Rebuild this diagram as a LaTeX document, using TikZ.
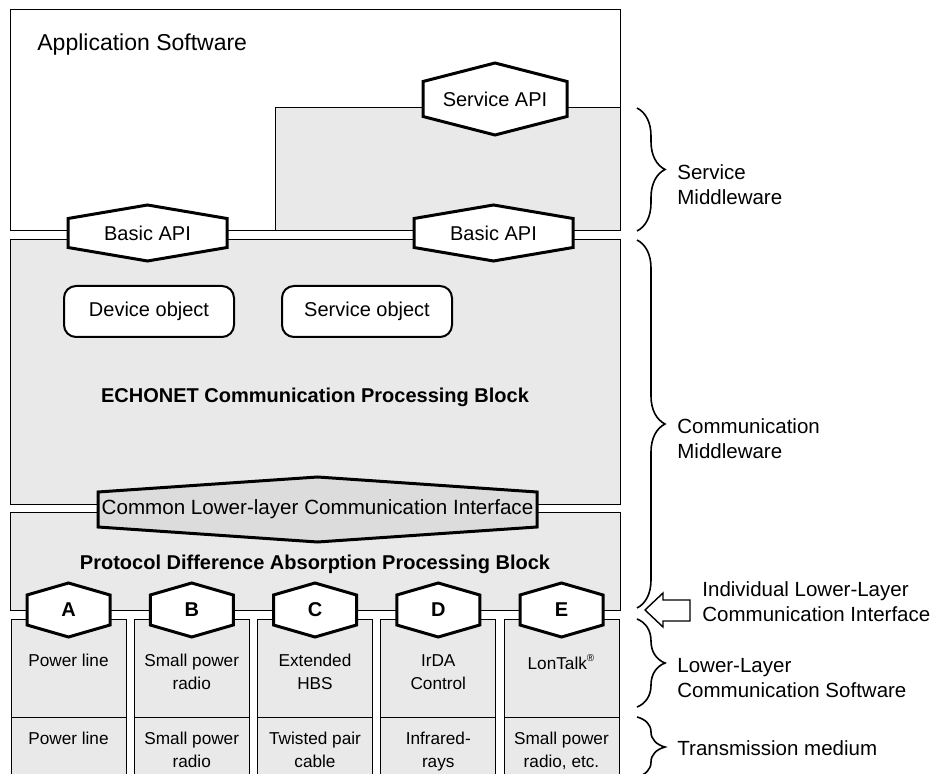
\documentclass[tikz,border=0pt]{standalone}
\usepackage{fontspec}
\setmainfont{Liberation Sans}
\usetikzlibrary{decorations.pathreplacing,calc}
\definecolor{blockgray}{HTML}{E9E9E9}
\definecolor{ifgray}{HTML}{DCDCDC}

\tikzset{
  block/.style={draw=black,line width=0.5pt,fill=blockgray},
  hexline/.style={draw=black,line width=1.5pt,line join=miter},
  objbox/.style={draw,line width=1pt,rounded corners=6pt,fill=white,minimum width=85pt,minimum height=25.5pt,font=\fontsize{10}{12}\selectfont},
  txt/.style={font=\fontsize{10}{12}\selectfont,inner sep=0pt},
  boldtxt/.style={font=\bfseries\fontsize{10}{12}\selectfont,inner sep=0pt},
  celltxt/.style={font=\fontsize{8.6}{11.5}\selectfont,align=center,anchor=north,inner sep=0pt},
  sidelbl/.style={font=\fontsize{10.25}{12.5}\selectfont,align=left,anchor=west,inner sep=0pt},
  brc/.style={decorate,decoration={brace,amplitude=14pt},line width=0.8pt}
}

% hexagon with label: [fill] name, cx, cy, half width, half side, half point, label
\newcommand{\apihex}[8][white]{%
  \filldraw[hexline,fill=#1] ({#3-#5},{#4-#6}) -- (#3,{#4-#7}) -- ({#3+#5},{#4-#6})
    -- ({#3+#5},{#4+#6}) -- (#3,{#4+#7}) -- ({#3-#5},{#4+#6}) -- cycle;
  \node[txt] (#2) at (#3,#4) {#8};}

\begin{document}
\begin{tikzpicture}[x=0.5pt,y=-0.5pt]
\clip (0,0) rectangle (931,774);
% application software
\draw[line width=0.5pt] (10,10) rectangle (620,231);
\node[txt,anchor=west,font=\fontsize{11.5}{14}\selectfont] (app) at (37,45) {Application Software};
\filldraw[block] (275,108) rectangle (620,231);
% ECHONET block
\filldraw[block] (10,240) rectangle (620,505);
\node[objbox] (devobj) at (149,311.5) {Device object};
\node[objbox] (srvobj) at (367,311.5) {Service object};
\node[boldtxt] (echonet) at (315,397) {ECHONET Communication Processing Block};
% protocol difference block
\filldraw[block] (10,513) rectangle (620,610);
\node[boldtxt] (pdab) at (315,564) {Protocol Difference Absorption Processing Block};
% lower layer columns
\foreach \i/\ltr/\sw/\md in {0/A/Power line/Power line,1/B/Small power\\radio/Small power\\radio,2/C/Extended\\HBS/Twisted pair\\cable,3/D/IrDA\\Control/Infrared-\\rays,4/E/LonTalk\textsuperscript{\fontsize{5}{6}\selectfont\textregistered}/Small power\\radio{,} etc.}{
  \pgfmathsetmacro{\xl}{11+123.25*\i}
  \pgfmathsetmacro{\xc}{\xl+57.5}
  \filldraw[block] (\xl,619) rectangle ({\xl+115},717);
  \filldraw[block] (\xl,717) rectangle ({\xl+115},790);
  \node[celltxt] (sw\ltr) at (\xc,654) {\sw};
  \node[celltxt] (tm\ltr) at (\xc,732) {\md};
}
% interfaces
\apihex{sapi}{495}{99}{72}{17.5}{36}{Service API}
\apihex{bapil}{147.5}{233}{79.5}{14.5}{28}{Basic API}
\apihex{bapir}{493.5}{233}{79.5}{14.5}{28}{Basic API}
\apihex[ifgray]{clci}{317.5}{509.5}{219.5}{17.5}{32.5}{\fontsize{10.3}{12}\selectfont Common Lower-layer Communication Interface}
\foreach \i/\ltr in {0/A,1/B,2/C,3/D,4/E}{
  \pgfmathsetmacro{\xc}{68.5+123.25*\i}
  \apihex{hex\ltr}{\xc}{610}{41.5}{15}{27}{\textbf{\ltr}}
}
% braces and labels
\draw[brc] (637,108) -- (637,231);
\draw[brc] (637,240) -- (637,608);
\draw[brc] (637,619) -- (637,707);
\draw[brc] (637,717) -- (637,777);
\node[sidelbl] (lblsm) at (677,184.5) {Service\\Middleware};
\node[sidelbl] (lblcm) at (677,439) {Communication\\Middleware};
\draw[line width=0.7pt,fill=white] (645,610) -- (663,593) -- (663,600) -- (690,600) -- (690,621) -- (663,621) -- (663,627) -- cycle;
\node[sidelbl] (lblif) at (702,601.5) {Individual Lower-Layer\\Communication Interface};
\node[sidelbl] (lblll) at (677,678.5) {Lower-Layer\\Communication Software};
\node[sidelbl] (lbltm) at (677,748) {Transmission medium};
\end{tikzpicture}
\end{document}
